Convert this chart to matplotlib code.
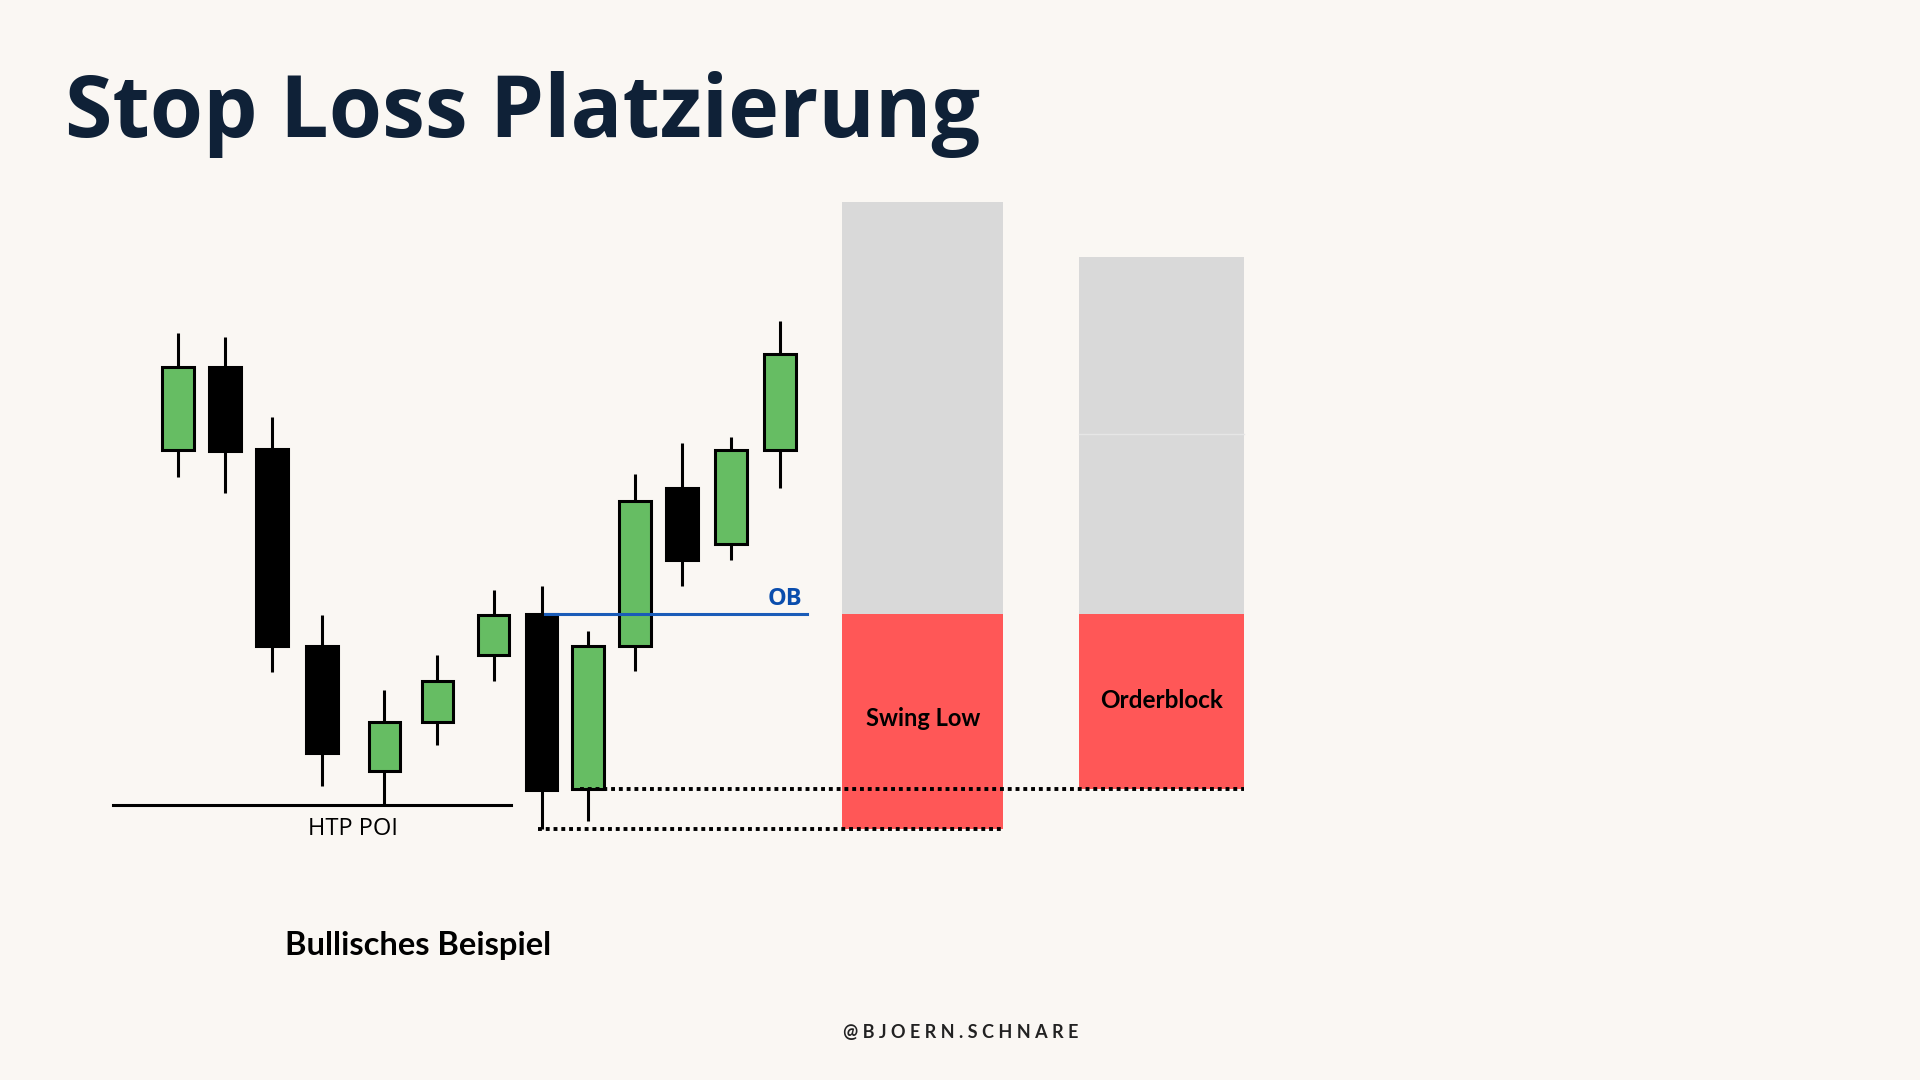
import matplotlib
matplotlib.use("Agg")
import matplotlib.pyplot as plt
from matplotlib.patches import Rectangle

# candle data (x = bar slot, prices in arbitrary units, 0 = HTP POI level)
candle_x = [0, 0.98, 1.96, 3.0, 4.3, 5.4, 6.58, 7.58, 8.54, 9.52, 10.5, 11.52, 12.54]
opens = [35.5, 43.8, 35.6, 15.9, 3.4, 8.3, 15.0, 19.1, 1.6, 15.9, 31.7, 26.1, 35.5]
closes = [43.8, 35.4, 15.9, 5.2, 8.3, 12.4, 19.0, 1.5, 15.9, 30.4, 24.5, 35.5, 45.1]
highs = [47.2, 46.8, 38.8, 19.0, 11.5, 15.0, 21.5, 21.9, 17.4, 33.1, 36.2, 36.8, 48.4]
lows = [32.8, 31.2, 13.3, 1.9, 0.0, 6.0, 12.4, -2.4, -1.6, 13.4, 21.9, 24.5, 31.7]

htp_level = 0.0
ob_level = 19.1
sl_swing = -2.4
sl_ob = 1.6

# risk/reward boxes: label, left slot, stop, target, intermediate level
box_labels = ["Swing Low", "Orderblock"]
box_left = [13.83, 18.77]
box_stop = [sl_swing, sl_ob]
box_target = [60.3, 54.8]
box_mid = [None, 37.1]

BG = "#faf7f3"
GREEN = "#66bd63"
RED = "#ff5757"
GREY = "#d9d9d9"
BLUE = "#1a5cb8"
NAVY = "#0f2137"

fig = plt.figure(figsize=(19.2, 10.8), dpi=100, facecolor=BG)
ax = fig.add_axes([0, 0, 1, 1])
ax.set_facecolor(BG)
ax.set_xlim(-3.708, 36.29)
ax.set_ylim(-27.5, 80.5)
ax.axis("off")

body_w = 0.65
for x, o, c, h, l in zip(candle_x, opens, closes, highs, lows):
    color = GREEN if c >= o else "black"
    ax.plot([x, x], [l, h], color="black", lw=2.2, zorder=2, solid_capstyle="butt")
    ax.add_patch(Rectangle((x - body_w / 2, min(o, c)), body_w, abs(c - o),
                           facecolor=color, edgecolor="black", lw=2.2, zorder=3))

# HTP POI
ax.plot([-1.35, 6.94], [htp_level, htp_level], color="black", lw=2.2, zorder=1)
ax.text(3.65, htp_level - 2.4, "HTP POI", ha="center", va="center",
        fontsize=17, family="Open Sans", color="black")

# OB line
ax.plot([7.65, 13.1], [ob_level, ob_level], color=BLUE, lw=2.2, zorder=4)
ax.text(12.65, ob_level + 1.5, "OB", ha="center", va="center", fontsize=17,
        fontweight="bold", family="Open Sans", color="#0a4dad")

# boxes
box_w = [3.36, 3.44]
for lab, x0, w, sl, tp, mid in zip(box_labels, box_left, box_w, box_stop,
                                    box_target, box_mid):
    ax.add_patch(Rectangle((x0, ob_level), w, tp - ob_level, facecolor=GREY,
                           edgecolor="none", zorder=1))
    ax.add_patch(Rectangle((x0, sl), w, ob_level - sl, facecolor=RED,
                           edgecolor="none", zorder=1))
    if mid is not None:
        ax.plot([x0, x0 + w], [mid, mid], color="#e6e6e6", lw=1, zorder=2)

ax.text(15.52, 8.6, "Swing Low", ha="center", va="center", fontsize=17,
        fontweight="bold", family="Lato", color="black", zorder=5)
ax.text(20.48, 10.5, "Orderblock", ha="center", va="center", fontsize=17.5,
        fontweight="bold", family="Lato", color="black", zorder=5)

# stop loss dotted lines
ax.plot([8.38, 22.21], [sl_ob, sl_ob], color="black", lw=2.8,
        linestyle=(0, (1, 1)), zorder=4)
ax.plot([7.5, 17.19], [sl_swing, sl_swing], color="black", lw=2.8,
        linestyle=(0, (1, 1)), zorder=4)

fig.text(0.034, 1 - 137 / 1080, "Stop Loss Platzierung", ha="left",
         va="baseline", fontsize=62, fontweight="bold", family="Open Sans",
         color=NAVY)
fig.text(285 / 1920, 1 - 945 / 1080, "Bullisches Beispiel", ha="left",
         va="center", fontsize=23.5, fontweight="bold", family="Lato",
         color="black")
fig.text(961 / 1920, 1 - 1032 / 1080, " ".join("@BJOERN.SCHNARE"),
         ha="center", va="center", fontsize=13, fontweight="bold",
         family="Lato", color="#222222")

fig.savefig("out.png", dpi=100, facecolor=BG)
